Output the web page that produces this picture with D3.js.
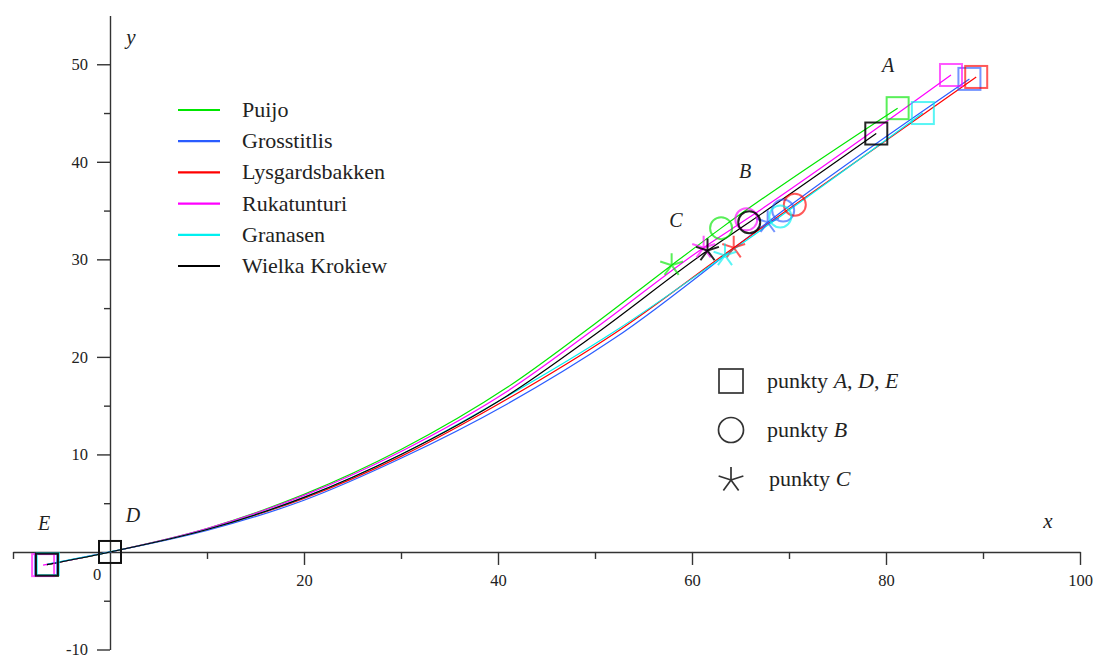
<!DOCTYPE html>
<html>
<head>
<meta charset="utf-8">
<script src="https://cdn.jsdelivr.net/npm/d3@7"></script>
<style>
  body { margin: 0; background: #fff; }
  svg { display: block; }
</style>
</head>
<body>
<svg id="chart" width="1095" height="655"></svg>
<script>
const SERIF = "'Liberation Serif', 'Times New Roman', Times, serif";

// hills (legend order) and their colours
const hills = ["Puijo", "Grosstitlis", "Lysgardsbakken", "Rukatunturi", "Granasen", "Wielka Krokiew"];
const colors = ["#00e600", "#2a5cff", "#ff0000", "#ff00ff", "#00f0f0", "#000000"];

// profile points between D and C, one row per hill
const midX = [
  [10, 20, 30, 41, 50],
  [10, 20, 30, 41, 52],
  [10, 20, 30, 41, 52],
  [10, 20, 30, 41, 50],
  [10, 20, 30, 41, 52],
  [10, 20, 30, 41, 50]
];
const midY = [
  [2.4, 5.9, 10.5, 16.9, 23.4],
  [2.2, 5.3, 9.6, 15.2, 21.9],
  [2.3, 5.5, 9.8, 15.7, 22.4],
  [2.4, 5.8, 10.3, 16.5, 22.9],
  [2.3, 5.6, 10.0, 16.0, 22.6],
  [2.3, 5.6, 10.0, 16.05, 22.3]
];

// characteristic points A, B, C, E (D is the origin)
const aX = [81.2, 88.6, 89.3, 86.7, 83.8, 79.0];
const aY = [45.5, 48.5, 48.7, 48.9, 45.0, 42.9];
const bX = [63.0, 69.4, 70.6, 65.6, 69.1, 65.9];
const bY = [33.2, 35.0, 35.6, 34.1, 34.4, 33.8];
const cX = [57.9, 67.8, 64.3, 61.2, 63.4, 61.6];
const cY = [29.4, 33.8, 31.2, 31.2, 30.4, 30.9];
const eX = [-6.5, -6.6, -6.5, -6.9, -6.4, -6.5];
const eY = [-1.3, -1.3, -1.3, -1.35, -1.25, -1.3];

// axis ticks
const xMajor = [20, 40, 60, 80, 100];
const xMinor = [-10, 10, 30, 50, 70, 90];
const yMajor = [-10, 10, 20, 30, 40, 50];
const yMinor = [-5, 5, 15, 25, 35, 45];

const svg = d3.select("#chart").style("font-family", SERIF);

const x = d3.scaleLinear().domain([-10, 100]).range([13, 1080]);
const y = d3.scaleLinear().domain([-10, 55]).range([649.5, 15.5]);

// axes crossing at the origin
const axes = svg.append("g").attr("class", "axes");
const plain = d => String(d);

const xAxis = axes.append("g").attr("transform", `translate(0,${y(0)})`);
xAxis.call(d3.axisBottom(x).tickValues(xMajor).tickFormat(plain).tickSize(13).tickPadding(9).tickSizeOuter(0));
const xMin = axes.append("g").attr("transform", `translate(0,${y(0)})`);
xMin.call(d3.axisBottom(x).tickValues(xMinor).tickSize(7).tickFormat("").tickSizeOuter(0));
xMin.select(".domain").remove();

const yAxis = axes.append("g").attr("transform", `translate(${x(0)},0)`);
yAxis.call(d3.axisLeft(y).tickValues(yMajor).tickFormat(plain).tickSize(13).tickPadding(9).tickSizeOuter(0));
const yMin = axes.append("g").attr("transform", `translate(${x(0)},0)`);
yMin.call(d3.axisLeft(y).tickValues(yMinor).tickSize(6).tickFormat("").tickSizeOuter(0));
yMin.select(".domain").remove();

axes.selectAll("g").attr("font-family", SERIF);
axes.selectAll(".domain, .tick line").attr("stroke", "#333").attr("stroke-width", 1.4);
axes.selectAll(".tick text")
  .attr("font-family", SERIF)
  .attr("font-size", 16.5)
  .attr("fill", "#222");

// the single "0" label, left of the origin
axes.append("text")
  .attr("x", x(0) - 13).attr("y", y(0) + 28)
  .attr("text-anchor", "middle")
  .attr("font-size", 16.5).attr("fill", "#222")
  .text("0");

// axis names
axes.append("text").attr("x", 131).attr("y", 44).attr("fill", "#222")
  .attr("text-anchor", "middle")
  .style("font-style", "italic").attr("font-size", 21).text("y");
axes.append("text").attr("x", 1048).attr("y", 528).attr("fill", "#222")
  .attr("text-anchor", "middle")
  .style("font-style", "italic").attr("font-size", 21).text("x");

// profiles
const line = d3.line().x(d => x(d[0])).y(d => y(d[1])).curve(d3.curveMonotoneX);
const plot = svg.append("g").attr("class", "plot");

hills.forEach((h, i) => {
  const pts = [[eX[i], eY[i]], [0, 0]]
    .concat(midX[i].map((v, j) => [v, midY[i][j]]))
    .concat([[cX[i], cY[i]], [bX[i], bY[i]], [aX[i], aY[i]]]);
  plot.append("path")
    .attr("d", line(pts))
    .attr("fill", "none")
    .attr("stroke", colors[i])
    .attr("stroke-width", 1.2);
});

// star with five arms
function starPath(cx, cy, r) {
  let p = "";
  for (let k = 0; k < 5; k++) {
    const a = -Math.PI / 2 + k * 2 * Math.PI / 5;
    p += `M${cx},${cy}L${cx + r * Math.cos(a)},${cy + r * Math.sin(a)}`;
  }
  return p;
}

const marks = svg.append("g").attr("class", "marks");
const sq = 22, cr = 11, sr = 12;

hills.forEach((h, i) => {
  const col = colors[i];
  const g = marks.append("g")
    .attr("stroke", col).attr("fill", "none")
    .attr("stroke-width", 2).attr("opacity", i === 5 ? 0.85 : 0.65);
  // squares at A and E
  [[aX[i], aY[i]], [eX[i], eY[i]]].forEach(p => {
    g.append("rect")
      .attr("x", x(p[0]) - sq / 2).attr("y", y(p[1]) - sq / 2)
      .attr("width", sq).attr("height", sq);
  });
  g.append("circle").attr("cx", x(bX[i])).attr("cy", y(bY[i])).attr("r", cr);
  g.append("path").attr("d", starPath(x(cX[i]), y(cY[i]), sr));
});

// D is common to all hills
marks.append("rect")
  .attr("x", x(0) - sq / 2).attr("y", y(0) - sq / 2)
  .attr("width", sq).attr("height", sq)
  .attr("fill", "none").attr("stroke", "#111").attr("stroke-width", 2);

// point names
const names = [["A", 888, 72], ["B", 745, 178], ["C", 676, 227], ["D", 133, 522], ["E", 44, 530]];
svg.append("g").selectAll("text").data(names).join("text")
  .attr("x", d => d[1]).attr("y", d => d[2])
  .attr("text-anchor", "middle").attr("fill", "#222")
  .style("font-style", "italic").attr("font-size", 20)
  .text(d => d[0]);

// legend of hills
const leg = svg.append("g").attr("transform", "translate(178,110)");
hills.forEach((h, i) => {
  const r = leg.append("g").attr("transform", `translate(0,${i * 31.2})`);
  r.append("line").attr("x1", 0).attr("x2", 42)
    .attr("stroke", colors[i]).attr("stroke-width", 2.2);
  r.append("text").attr("x", 64).attr("y", 7).attr("fill", "#222")
    .attr("font-size", 22).text(h);
});

// legend of point symbols
const leg2 = svg.append("g").attr("transform", "translate(731,381)");
leg2.append("rect").attr("x", -12).attr("y", -12).attr("width", 24).attr("height", 24)
  .attr("fill", "none").attr("stroke", "#333").attr("stroke-width", 1.7);
leg2.append("circle").attr("cx", 0).attr("cy", 49).attr("r", 12.5)
  .attr("fill", "none").attr("stroke", "#333").attr("stroke-width", 1.7);
leg2.append("path").attr("d", starPath(0, 99, 13))
  .attr("fill", "none").attr("stroke", "#333").attr("stroke-width", 1.7);

const legTexts = [["punkty ", "A", ", ", "D", ", ", "E"], ["punkty ", "B"], ["punkty ", "C"]];
legTexts.forEach((parts, i) => {
  const t = leg2.append("text").attr("x", 36 + (i === 2 ? 2 : 0)).attr("y", i * 49 + 7)
    .attr("fill", "#222").attr("font-size", 22);
  parts.forEach((s, j) => {
    t.append("tspan").style("font-style", j % 2 === 1 ? "italic" : "normal").text(s);
  });
});
</script>
</body>
</html>
